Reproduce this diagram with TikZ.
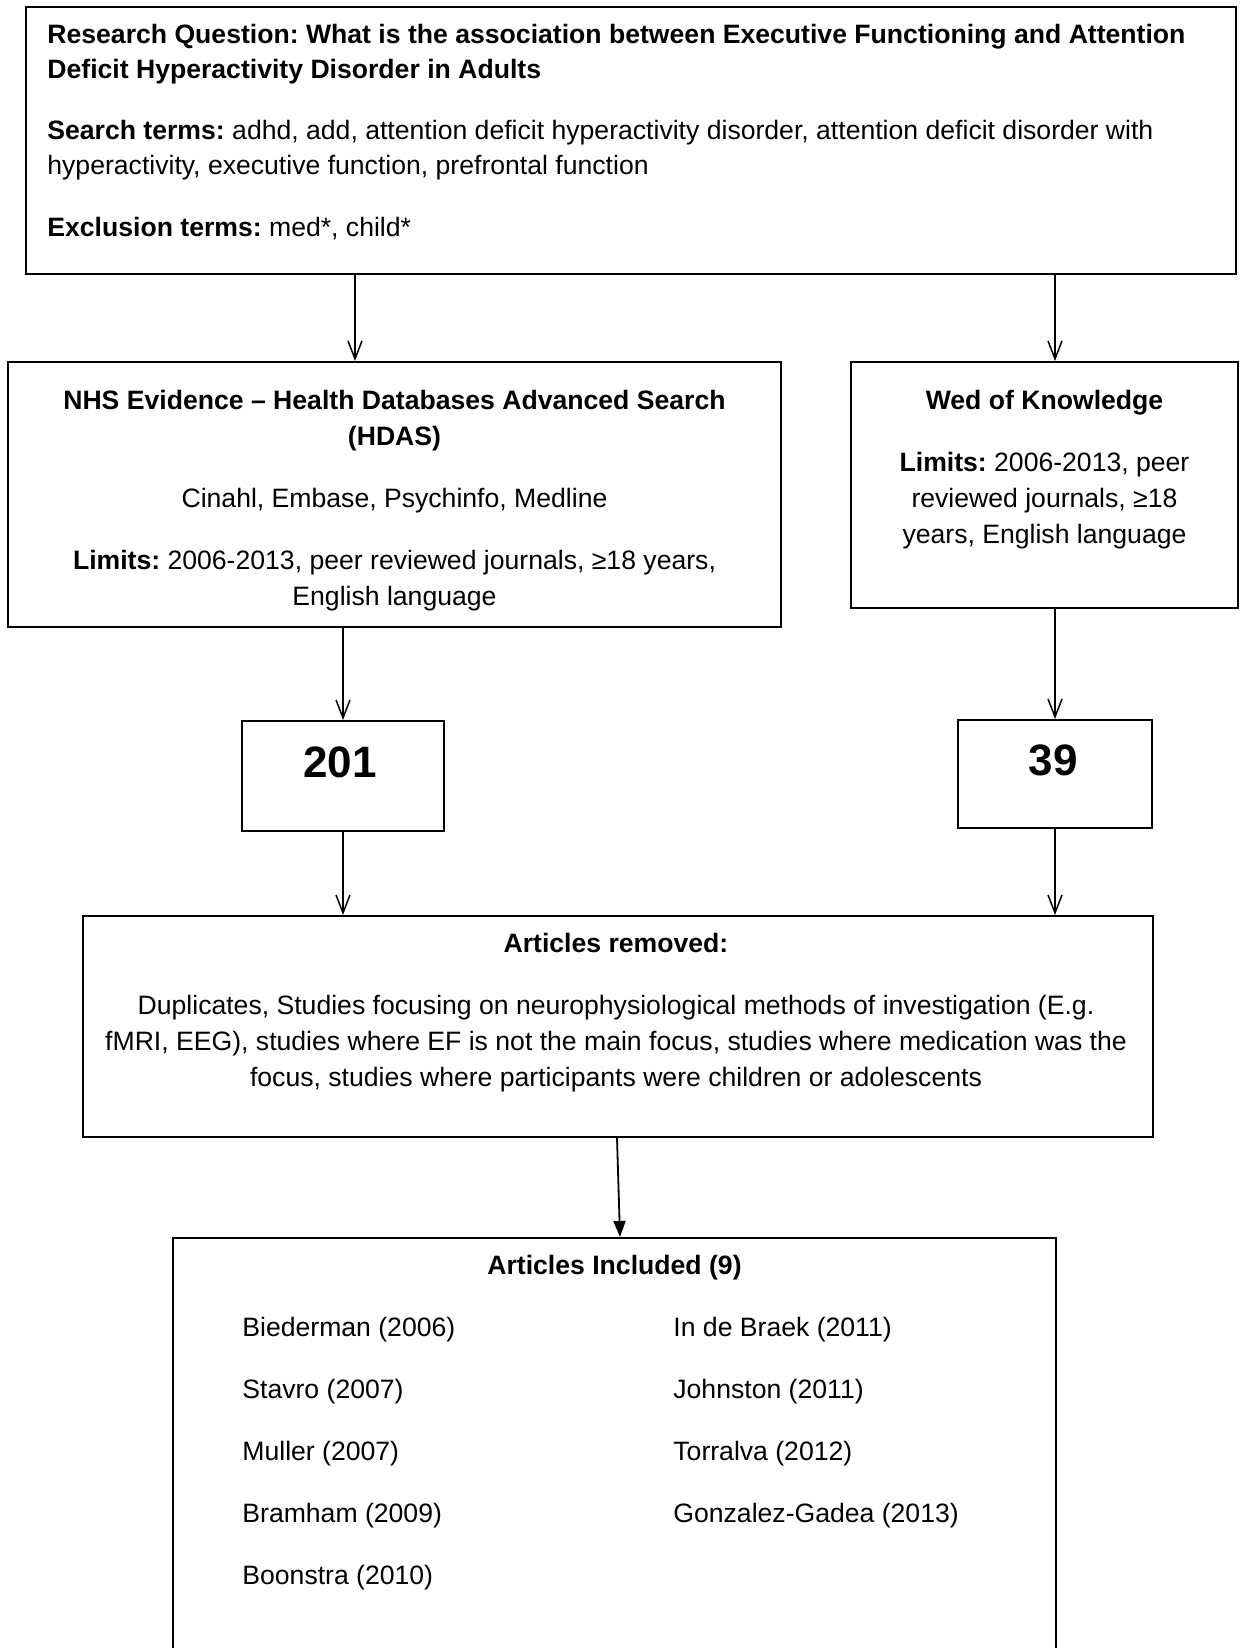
\documentclass[tikz,border=0pt]{standalone}
\usepackage{fontspec}
\setmainfont{Liberation Sans}
\usetikzlibrary{arrows.meta}
\frenchspacing
\newcommand{\ctab}[1]{\begin{tabular}[t]{@{}c@{}}#1\end{tabular}}
\newcommand{\ltab}[1]{\begin{tabular}[t]{@{}l@{}}#1\end{tabular}}
\begin{document}
\begin{tikzpicture}[x=0.5pt,y=-0.5pt,
  box/.style={draw, line width=1pt, rectangle, inner sep=0pt},
  txt/.style={inner sep=0pt, anchor=base, font=\fontsize{13.3}{18}\selectfont},
  txtL/.style={inner sep=0pt, anchor=base west, font=\fontsize{13.3}{17.5}\selectfont},
  big/.style={inner sep=0pt, anchor=base, font=\fontsize{22}{26}\selectfont\bfseries},
  arr/.style={line width=0.75pt, -{Straight Barb[length=9pt,width=7pt,line width=0.75pt]}},
  arrf/.style={line width=0.9pt, -{Triangle[length=8pt,width=6pt]}}
]
\useasboundingbox (0,0) rectangle (1245,1648);
\clip (0,0) rectangle (1245,1648);
\fill[white] (0,0) rectangle (1245,1648);

% boxes
\node[box, minimum width=605pt, minimum height=133.5pt] (top) at (631,140.5) {};
\node[box, minimum width=386.5pt, minimum height=132.5pt] (nhs) at (394.5,494.5) {};
\node[box, minimum width=193.5pt, minimum height=123pt] (wed) at (1044.5,485) {};
\node[box, minimum width=101pt, minimum height=55pt] (b201) at (343,776) {};
\node[box, minimum width=97pt, minimum height=54pt] (b39) at (1055,774) {};
\node[box, minimum width=535pt, minimum height=110.5pt] (removed) at (618,1026.5) {};
\node[box, minimum width=441.5pt, minimum height=216pt] (included) at (614.5,1454) {};

% texts: top box
\node[txtL] (rq) at (47,44) {\ltab{\textbf{Research Question: What is the association between Executive Functioning and Attention}\\\textbf{Deficit Hyperactivity Disorder in Adults}}};
\node[txtL] (st) at (47,140) {\ltab{\textbf{Search terms:} adhd, add, attention deficit hyperactivity disorder, attention deficit disorder with\\hyperactivity, executive function, prefrontal function}};
\node[txtL] (ex) at (47,236) {\textbf{Exclusion terms:} med*, child*};

% NHS
\node[txt] (nhst) at (394.5,409) {\ctab{\textbf{NHS Evidence – Health Databases Advanced Search}\\\textbf{(HDAS)}}};
\node[txt] (nhsd) at (394.5,507) {Cinahl, Embase, Psychinfo, Medline};
\node[txt] (nhsl) at (394.5,569) {\ctab{\textbf{Limits:} 2006-2013, peer reviewed journals, ≥18 years,\\English language}};

% Web of Knowledge
\node[txt] (wedt) at (1044.5,409) {\textbf{Wed of Knowledge}};
\node[txt] (wedl) at (1044.5,471) {\ctab{\textbf{Limits:} 2006-2013, peer\\reviewed journals, ≥18\\years, English language}};

% counts
\node[big] (t201) at (340,777) {201};
\node[big] (t39) at (1053,775) {39};

% removed
\node[txt] (remt) at (616,952) {\textbf{Articles removed:}};
\node[txt] (remd) at (616,1014) {\ctab{Duplicates, Studies focusing on neurophysiological methods of investigation (E.g.\\fMRI, EEG), studies where EF is not the main focus, studies where medication was the\\focus, studies where participants were children or adolescents}};

% included
\node[txt] (inct) at (614.5,1274) {\textbf{Articles Included (9)}};
\node[txtL] (i1) at (242,1336) {Biederman (2006)};
\node[txtL] (i2) at (242,1398) {Stavro (2007)};
\node[txtL] (i3) at (242,1460) {Muller (2007)};
\node[txtL] (i4) at (242,1522) {Bramham (2009)};
\node[txtL] (i5) at (242,1584) {Boonstra (2010)};
\node[txtL] (i6) at (673,1336) {In de Braek (2011)};
\node[txtL] (i7) at (673,1398) {Johnston (2011)};
\node[txtL] (i8) at (673,1460) {Torralva (2012)};
\node[txtL] (i9) at (673,1522) {Gonzalez-Gadea (2013)};

% connectors
\coordinate (c1) at (355,0);
\draw[arr] (top.south -| c1) -- (nhs.north -| c1);
\draw[arr] (top.south -| b39) -- (wed.north -| b39);
\draw[arr] (nhs.south -| b201) -- (b201.north);
\draw[arr] (wed.south -| b39) -- (b39.north);
\draw[arr] (b201.south) -- (removed.north -| b201);
\draw[arr] (b39.south) -- (removed.north -| b39);
\draw[arrf] ([xshift=-0.5pt]removed.south) -- ([xshift=2.75pt]included.north);
\end{tikzpicture}
\end{document}
